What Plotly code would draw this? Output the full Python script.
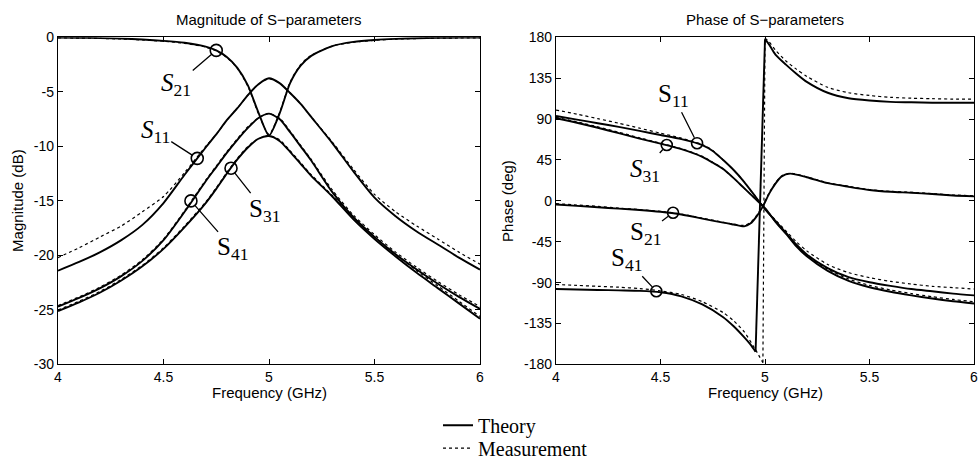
import plotly.graph_objects as go

# ---------------- data ----------------
# Magnitude (dB)
f_mag = [4.0, 4.1, 4.2, 4.3, 4.4, 4.5, 4.6, 4.7, 4.75, 4.8, 4.85, 4.9, 4.95, 5.0,
         5.05, 5.1, 5.15, 5.2, 5.3, 5.4, 5.5, 5.6, 5.7, 5.8, 5.9, 6.0]
s11_mag_th = [-21.4, -20.6, -19.7, -18.6, -17.2, -15.2, -12.6, -10.1, -8.9, -7.6, -6.5, -5.3, -4.3, -3.75,
              -4.2, -5.1, -6.1, -7.3, -9.7, -12.3, -14.7, -16.4, -17.8, -19.0, -20.2, -21.3]
s11_mag_ms = [-20.2, -19.3, -18.3, -17.3, -16.0, -14.6, -12.4, -10.0, -8.9, -7.6, -6.5, -5.3, -4.3, -3.8,
              -4.2, -5.1, -6.1, -7.3, -9.6, -12.1, -14.4, -16.0, -17.3, -18.5, -19.7, -20.8]
s21_mag_th = [-0.02, -0.04, -0.07, -0.12, -0.2, -0.32, -0.5, -0.85, -1.2, -1.8, -2.8, -4.4, -6.9, -9.0,
              -7.0, -4.2, -2.6, -1.7, -0.8, -0.42, -0.24, -0.14, -0.08, -0.05, -0.03, -0.02]
s21_mag_ms = [-0.05, -0.07, -0.1, -0.15, -0.24, -0.36, -0.55, -0.9, -1.25, -1.85, -2.85, -4.5, -7.0, -8.9,
              -6.9, -4.1, -2.5, -1.65, -0.8, -0.45, -0.27, -0.17, -0.11, -0.08, -0.06, -0.05]
s31_mag_th = [-25.1, -24.3, -23.4, -22.3, -21.0, -19.4, -17.4, -15.2, -13.9, -12.5, -11.2, -10.1, -9.3, -9.05,
              -9.5, -10.5, -11.6, -12.7, -14.6, -16.7, -18.5, -20.1, -21.6, -23.0, -24.4, -25.8]
s31_mag_ms = [-25.0, -24.2, -23.3, -22.2, -20.9, -19.3, -17.3, -15.1, -13.8, -12.4, -11.1, -10.0, -9.3, -9.0,
              -9.4, -10.4, -11.5, -12.6, -14.5, -16.5, -18.3, -19.9, -21.4, -22.8, -24.2, -25.6]
s41_mag_th = [-24.7, -23.9, -23.0, -21.9, -20.5, -18.6, -16.0, -13.2, -11.9, -10.6, -9.4, -8.3, -7.4, -7.0,
              -7.5, -8.7, -10.0, -11.3, -14.2, -16.5, -18.3, -19.9, -21.3, -22.6, -23.8, -24.9]
s41_mag_ms = [-24.6, -23.8, -22.9, -21.8, -20.4, -18.5, -15.9, -13.1, -11.8, -10.5, -9.3, -8.2, -7.4, -7.0,
              -7.4, -8.6, -9.9, -11.2, -14.0, -16.3, -18.1, -19.7, -21.1, -22.4, -23.6, -24.7]

# Phase (deg)
f_ph = [4.0, 4.1, 4.2, 4.3, 4.4, 4.5, 4.6, 4.7, 4.75, 4.8, 4.85, 4.9, 4.95, 5.0,
        5.05, 5.1, 5.15, 5.2, 5.3, 5.4, 5.5, 5.6, 5.7, 5.8, 5.9, 6.0]
s11_ph_th = [93.5, 89.5, 85.5, 81.5, 77, 72.5, 68, 61.5, 55, 45, 34, 21, 6, -9,
             -22, -35, -48, -59, -74, -84, -89.5, -93.5, -97, -99.5, -102, -104]
s11_ph_ms = [100, 95.5, 90.5, 85.5, 80, 74.5, 69, 62, 55.5, 45, 34, 21, 6, -9,
             -21, -33, -45, -55, -70, -79, -84.5, -88.5, -91.5, -94, -95.5, -97]
s31_ph_th = [91, 86, 80.5, 74.5, 68.5, 63, 57, 48.5, 42, 35, 25, 14, 3, -8,
             -23, -36, -50, -61, -77, -88, -95, -100, -104, -107.5, -110.5, -113]
s31_ph_ms = [92, 87, 81.5, 75.5, 69.5, 63.5, 57.5, 49, 42.5, 35, 25, 14, 3, -8,
             -23, -36, -49, -60, -75, -86, -93, -98, -102, -105.5, -108.5, -111]

f_s21_ph = [4.0, 4.1, 4.2, 4.3, 4.4, 4.5, 4.6, 4.7, 4.8, 4.85, 4.9, 4.93, 4.96, 4.99,
            5.02, 5.05, 5.08, 5.12, 5.2, 5.3, 5.4, 5.5, 5.6, 5.7, 5.8, 5.9, 6.0]
s21_ph_th = [-4, -5.5, -7, -8.5, -10, -12, -15, -19.5, -24, -26, -28, -25, -17, -6,
             8, 19, 27, 30, 26, 19.5, 15.5, 12, 10, 9, 7.5, 6, 5]
s21_ph_ms = [-3, -4.5, -6, -8, -9.5, -11.5, -14.5, -19, -23.5, -25.5, -27, -24, -16, -5,
             9, 20, 27.5, 30.5, 26.5, 20, 16, 12.5, 10.5, 9.5, 8, 6.5, 5.5]

f_s41_th = [4.0, 4.1, 4.2, 4.3, 4.4, 4.5, 4.6, 4.7, 4.8, 4.85, 4.9, 4.93, 4.955, 5.0,
            5.02, 5.05, 5.1, 5.15, 5.2, 5.3, 5.4, 5.5, 5.6, 5.7, 5.8, 5.9, 6.0]
s41_ph_th = [-97, -97.5, -98, -98.5, -99, -100.5, -105, -114, -128, -138, -150, -158, -166, 178,
             172, 161, 150, 140, 131, 119, 113, 110.5, 109, 108.5, 108, 108, 108]
f_s41_ms = [4.0, 4.1, 4.2, 4.3, 4.4, 4.5, 4.6, 4.7, 4.8, 4.85, 4.9, 4.95, 4.99, 5.0,
            5.02, 5.05, 5.1, 5.15, 5.2, 5.3, 5.4, 5.5, 5.6, 5.7, 5.8, 5.9, 6.0]
s41_ph_ms = [-92, -93, -94, -95, -96.5, -99, -103, -111, -123, -132, -144, -162, -178, 179,
             175, 166, 154, 145, 137, 125, 119, 116, 114, 113, 112.5, 112, 112]

# Label markers (frequency, value)
mag_labels = ["<i>S</i><sub>21</sub>", "<i>S</i><sub>11</sub>", "S<sub>31</sub>", "S<sub>41</sub>"]
mag_mark_f = [4.75, 4.66, 4.82, 4.63]
mag_mark_v = [-1.2, -11.1, -12.0, -15.0]
ph_labels = ["S<sub>11</sub>", "<i>S</i><sub>31</sub>", "S<sub>21</sub>", "S<sub>41</sub>"]
ph_mark_f = [4.675, 4.53, 4.56, 4.48]
ph_mark_v = [63.5, 61.5, -13, -99.5]

mag_ticks = [-30, -25, -20, -15, -10, -5, 0]
mag_ticktext = ["-30", "-25", "-20", "-15", "-10", "-5", "0"]
ph_ticks = [-180, -135, -90, -45, 0, 45, 90, 135, 180]
ph_ticktext = ["-180", "-135", "-90", "-45", "0", "45", "90", "135", "180"]
f_ticks = [4, 4.5, 5, 5.5, 6]
f_ticktext = ["4", "4.5", "5", "5.5", "6"]

# ---------------- figure ----------------
fig = go.Figure()
SANS = "Liberation Sans, Arial, sans-serif"
SERIF = "Liberation Serif, Times New Roman, serif"
TH = dict(color="black", width=1.9, shape="spline", smoothing=0.7)
MS = dict(color="black", width=1.2, dash="dot", shape="spline", smoothing=0.7)

legend_done = {"th": False, "ms": False}


def add(x, y, kind, xa="x", ya="y"):
    style = TH if kind == "th" else MS
    name = "Theory" if kind == "th" else "Measurement"
    leg = "legend" if kind == "th" else "legend2"
    # split at phase wraps, connect with straight segment
    segs = [[0]]
    for i in range(1, len(y)):
        if abs(y[i] - y[i - 1]) > 200:
            segs.append([i])
        else:
            segs[-1].append(i)
    for k, seg in enumerate(segs):
        show = not legend_done[kind]
        legend_done[kind] = True
        fig.add_trace(go.Scatter(x=[x[i] for i in seg], y=[y[i] for i in seg], mode="lines",
                                 line=style, name=name, showlegend=show, legend=leg,
                                 xaxis=xa, yaxis=ya, hoverinfo="skip"))
        if k > 0:
            j = seg[0]
            lin = dict(style)
            lin["shape"] = "linear"
            fig.add_trace(go.Scatter(x=[x[j - 1], x[j]], y=[y[j - 1], y[j]], mode="lines",
                                     line=lin, showlegend=False, xaxis=xa, yaxis=ya, hoverinfo="skip"))


# magnitude
add(f_mag, s11_mag_th, "th")
add(f_mag, s11_mag_ms, "ms")
for th, ms in [(s21_mag_th, s21_mag_ms), (s31_mag_th, s31_mag_ms), (s41_mag_th, s41_mag_ms)]:
    add(f_mag, ms, "ms")
    add(f_mag, th, "th")
# phase
for th, ms in [(s11_ph_th, s11_ph_ms), (s31_ph_th, s31_ph_ms)]:
    add(f_ph, ms, "ms", "x2", "y2")
    add(f_ph, th, "th", "x2", "y2")
add(f_s21_ph, s21_ph_ms, "ms", "x2", "y2")
add(f_s21_ph, s21_ph_th, "th", "x2", "y2")
add(f_s41_ms, s41_ph_ms, "ms", "x2", "y2")
add(f_s41_th, s41_ph_th, "th", "x2", "y2")

# label circles
fig.add_trace(go.Scatter(x=mag_mark_f, y=mag_mark_v, mode="markers", showlegend=False,
                         marker=dict(symbol="circle-open", size=12, color="black", line=dict(width=1.6)),
                         hoverinfo="skip"))
fig.add_trace(go.Scatter(x=ph_mark_f, y=ph_mark_v, mode="markers", showlegend=False, xaxis="x2", yaxis="y2",
                         marker=dict(symbol="circle-open", size=11, color="black", line=dict(width=1.6)),
                         hoverinfo="skip"))

annotations = []
mag_offsets = [(-40, 34), (-42, -27), (33, 42), (42, 48)]
for lab, fx, vy, (ax, ay) in zip(mag_labels, mag_mark_f, mag_mark_v, mag_offsets):
    annotations.append(dict(x=fx, y=vy, xref="x", yref="y", text=lab, showarrow=True, arrowhead=0,
                            arrowwidth=1.3, arrowcolor="black", ax=ax, ay=ay, standoff=6,
                            font=dict(family=SERIF, size=25, color="black")))
ph_offsets = [(-24, -48), (-22, 25), (-28, 21), (-30, -32)]
for lab, fx, vy, (ax, ay) in zip(ph_labels, ph_mark_f, ph_mark_v, ph_offsets):
    annotations.append(dict(x=fx, y=vy, xref="x2", yref="y2", text=lab, showarrow=True, arrowhead=0,
                            arrowwidth=1.3, arrowcolor="black", ax=ax, ay=ay, standoff=6,
                            font=dict(family=SERIF, size=25, color="black")))

# titles and axis titles
L = [58 / 979, 480 / 979]
R = [556 / 979, 974 / 979]
YD = [102 / 468, 430.5 / 468]
txt = dict(family=SANS, size=15, color="black")
common_ann = dict(xref="paper", yref="paper", showarrow=False, xanchor="center", yanchor="middle", font=txt)
annotations += [
    dict(text="Magnitude of S\u2212parameters", x=sum(L) / 2, y=(468 - 20) / 468, **common_ann),
    dict(text="Phase of S\u2212parameters", x=sum(R) / 2, y=(468 - 20) / 468, **common_ann),
    dict(text="Frequency (GHz)", x=sum(L) / 2, y=(468 - 394) / 468, **common_ann),
    dict(text="Frequency (GHz)", x=sum(R) / 2, y=(468 - 394) / 468, **common_ann),
    dict(text="Magnitude (dB)", x=18 / 979, y=sum(YD) / 2, textangle=-90, **common_ann),
    dict(text="Phase (deg)", x=508 / 979, y=sum(YD) / 2, textangle=-90, **common_ann),
]

ax_common = dict(showgrid=False, zeroline=False, showline=True, linecolor="black", linewidth=1.3,
                 mirror="allticks", ticks="inside", ticklen=5, tickcolor="black", tickwidth=1.2,
                 tickfont=dict(family=SANS, size=14, color="black"), automargin=False)

leg_common = dict(xanchor="left", yanchor="middle", bgcolor="rgba(0,0,0,0)",
                  font=dict(family=SERIF, size=20, color="black"), itemwidth=30)

fig.update_layout(
    width=979, height=468,
    margin=dict(l=0, r=0, t=0, b=0),
    paper_bgcolor="white", plot_bgcolor="white",
    xaxis=dict(domain=L, range=[4, 6], tickvals=f_ticks, ticktext=f_ticktext, anchor="y", **ax_common),
    yaxis=dict(domain=YD, range=[-30, 0], tickvals=mag_ticks, ticktext=mag_ticktext, anchor="x", **ax_common),
    xaxis2=dict(domain=R, range=[4, 6], tickvals=f_ticks, ticktext=f_ticktext, anchor="y2", **ax_common),
    yaxis2=dict(domain=YD, range=[-180, 180], tickvals=ph_ticks, ticktext=ph_ticktext, anchor="x2", **ax_common),
    annotations=annotations,
    showlegend=True,
    legend=dict(x=438 / 979, y=(468 - 427) / 468, **leg_common),
    legend2=dict(x=438 / 979, y=(468 - 450) / 468, **leg_common),
)

fig.write_html("out.html", config={"displayModeBar": False},
               post_script="document.body.style.margin='0';document.body.style.overflow='hidden';")
